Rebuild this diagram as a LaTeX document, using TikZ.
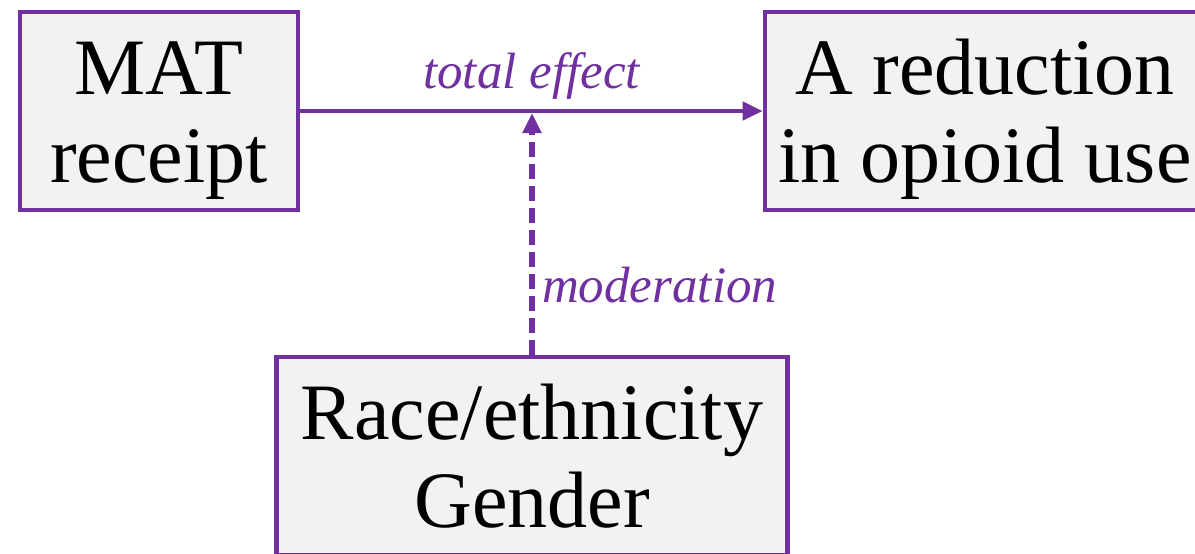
\documentclass[tikz,border=0pt]{standalone}
\usepackage{fontspec}
\setmainfont{Liberation Serif}
\usepackage{tikz}
\usetikzlibrary{arrows.meta}
\definecolor{modpurple}{HTML}{7030A0}
\definecolor{boxgray}{HTML}{F2F2F2}

\begin{document}
\begin{tikzpicture}[x=0.5pt, y=-0.5pt,
    varbox/.style={draw=modpurple, line width=2.3pt, fill=boxgray, align=center,
                   minimum height=99pt, text height=80.5pt, text depth=9pt,
                   inner sep=0pt, font=\fontsize{40}{44}\selectfont},
    lbl/.style={text=modpurple, font=\fontsize{25.5}{30}\selectfont\itshape},
    effarrow/.style={draw=modpurple, line width=2.3pt, -{Triangle[length=10pt,width=9pt]}}]
  \useasboundingbox (0,0) rectangle (1195,553);
  \clip (0,0) rectangle (1195,553);
  \node (mat) [varbox, minimum width=139pt] at (159,111) {MAT\\receipt};
  \node (red) [varbox, minimum width=220pt] at (985,111) {A reduction\\in opioid use};
  \node (race) [varbox, minimum width=255.5pt] at (532,456) {Race/ethnicity\\Gender};
  \draw [effarrow] (mat) -- (red) node (totlbl) [lbl, midway, above=1.5pt] {total effect};
  % dashed moderation arrow, ends on the lower edge of the effect line
  \draw [effarrow, line width=2.6pt, dash pattern=on 7.5pt off 3.5pt, shorten >=1pt] (race) -- (race |- mat.east);
  \node (modlbl) [lbl, anchor=base west] at (535,302) {moderation};
\end{tikzpicture}
\end{document}
